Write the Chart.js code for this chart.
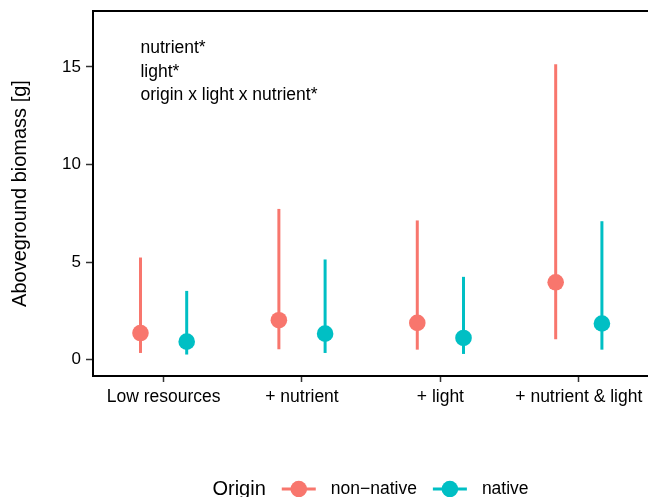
<!DOCTYPE html>
<html>
<head>
<meta charset="utf-8">
<script src="https://cdn.jsdelivr.net/npm/chart.js@4/dist/chart.umd.min.js"></script>
<style>
  html, body { margin: 0; padding: 0; background: #fff; }
  #wrap { width: 648px; height: 497px; }
</style>
</head>
<body>
<div id="wrap"><canvas id="c"></canvas></div>
<script>
const CATEGORIES = ['Low resources', '+ nutrient', '+ light', '+ nutrient & light']
const NONNATIVE_MEAN = [1.36, 2.02, 1.88, 3.96]
const NONNATIVE_LOW = [0.34, 0.53, 0.51, 1.04]
const NONNATIVE_HIGH = [5.23, 7.72, 7.13, 15.13]
const NATIVE_MEAN = [0.92, 1.33, 1.11, 1.85]
const NATIVE_LOW = [0.26, 0.34, 0.29, 0.51]
const NATIVE_HIGH = [3.52, 5.13, 4.24, 7.09]
const Y_TICKS = [0, 5, 10, 15]
const ANNOTATIONS = ['nutrient*', 'light*', 'origin x light x nutrient*']
const LEGEND_TITLE = 'Origin'

const DODGE = 0.167
const FONT = '"Liberation Sans", Arial, Helvetica, sans-serif'
const RED = '#F8766D'
const TEAL = '#00BFC4'

function points(mean, low, high, shift) {
  return mean.map((m, i) => ({ x: i + 1 + shift, y: m, lo: low[i], hi: high[i] }))
}

// vertical ranges, top border, annotation text and the bottom legend
const rangePlugin = {
  id: 'ranges',
  beforeDatasetsDraw(chart) {
    const ctx = chart.ctx
    const y = chart.scales.y
    ctx.save()
    chart.data.datasets.forEach((ds, di) => {
      const meta = chart.getDatasetMeta(di)
      ctx.strokeStyle = ds.borderColor
      ctx.lineWidth = 3
      ds.data.forEach((p, i) => {
        const px = meta.data[i].x
        ctx.beginPath()
        ctx.moveTo(px, y.getPixelForValue(p.lo))
        ctx.lineTo(px, y.getPixelForValue(p.hi))
        ctx.stroke()
      })
    })
    ctx.restore()
  },
  afterDraw(chart) {
    const ctx = chart.ctx
    const { chartArea, scales } = chart
    ctx.save()

    // top panel border
    ctx.strokeStyle = '#000'
    ctx.lineWidth = 2
    ctx.beginPath()
    ctx.moveTo(chartArea.left - 1, chartArea.top)
    ctx.lineTo(chartArea.right, chartArea.top)
    ctx.stroke()

    // test annotations
    ctx.fillStyle = '#000'
    ctx.font = '17.5px ' + FONT
    ctx.textAlign = 'left'
    ctx.textBaseline = 'alphabetic'
    const ax = scales.x.getPixelForValue(1 - DODGE)
    ANNOTATIONS.forEach((t, i) => {
      ctx.fillText(t, ax, scales.y.getPixelForValue(15.7 - i * 1.2))
    })

    // legend
    const cy = 489
    const keyW = 34
    ctx.font = '17.5px ' + FONT
    const items = chart.data.datasets.map(ds => ({ label: ds.label, color: ds.borderColor, w: ctx.measureText(ds.label).width }))
    ctx.font = '20px ' + FONT
    const titleW = ctx.measureText(LEGEND_TITLE).width
    let total = titleW + 16
    items.forEach((it, i) => { total += keyW + 15 + it.w + (i < items.length - 1 ? 16 : 0) })
    let x = (chartArea.left + chartArea.right) / 2 - total / 2
    ctx.textBaseline = 'middle'
    ctx.fillStyle = '#000'
    ctx.fillText(LEGEND_TITLE, x, cy)
    x += titleW + 16
    ctx.font = '17.5px ' + FONT
    items.forEach(it => {
      ctx.strokeStyle = it.color
      ctx.lineWidth = 3
      ctx.beginPath()
      ctx.moveTo(x, cy)
      ctx.lineTo(x + keyW, cy)
      ctx.stroke()
      ctx.fillStyle = it.color
      ctx.beginPath()
      ctx.arc(x + keyW / 2, cy, 8.3, 0, Math.PI * 2)
      ctx.fill()
      x += keyW + 15
      ctx.fillStyle = '#000'
      ctx.fillText(it.label, x, cy)
      x += it.w + 16
    })
    ctx.restore()
  }
}

new Chart(document.getElementById('c'), {
  type: 'scatter',
  plugins: [rangePlugin],
  data: {
    datasets: [
      {
        label: 'non\u2212native',
        data: points(NONNATIVE_MEAN, NONNATIVE_LOW, NONNATIVE_HIGH, -DODGE),
        borderColor: RED,
        backgroundColor: RED,
        pointRadius: 8.3,
        pointBorderWidth: 0,
      },
      {
        label: 'native',
        data: points(NATIVE_MEAN, NATIVE_LOW, NATIVE_HIGH, DODGE),
        borderColor: TEAL,
        backgroundColor: TEAL,
        pointRadius: 8.3,
        pointBorderWidth: 0,
      }
    ]
  },
  options: {
    responsive: true,
    maintainAspectRatio: false,
    animation: false,
    layout: { autoPadding: false, padding: { top: 11, right: 0, bottom: 0, left: 0 } },
    scales: {
      x: {
        type: 'linear',
        min: 0.49,
        max: 4.5,
        afterFit(scale) {
          scale.height = 121
          scale.paddingLeft = 0
          scale.paddingRight = 0
        },
        afterBuildTicks(scale) { scale.ticks = CATEGORIES.map((c, i) => ({ value: i + 1 })) },
        border: { display: true, color: '#000', width: 2 },
        grid: { drawOnChartArea: false, drawTicks: true, tickLength: 6, tickWidth: 1.5, tickColor: '#333' },
        ticks: {
          color: '#000',
          padding: 5,
          maxRotation: 0,
          font: { family: FONT, size: 17.5 },
          callback: v => CATEGORIES[v - 1] || ''
        }
      },
      y: {
        min: -0.84,
        max: 17.86,
        afterFit(scale) {
          scale.width = 93
          scale.paddingTop = 0
          scale.paddingBottom = 0
        },
        afterBuildTicks(scale) { scale.ticks = Y_TICKS.map(v => ({ value: v })) },
        border: { display: true, color: '#000', width: 2 },
        grid: { drawOnChartArea: false, drawTicks: true, tickLength: 7, tickWidth: 1.5, tickColor: '#333' },
        ticks: {
          color: '#000',
          padding: 5,
          font: { family: FONT, size: 17 }
        },
        title: {
          display: true,
          text: 'Aboveground biomass [g]',
          color: '#000',
          font: { family: FONT, size: 20 },
          padding: { top: 8, bottom: 0 }
        }
      }
    },
    plugins: {
      legend: { display: false },
      tooltip: { enabled: false }
    }
  }
})
</script>
</body>
</html>
